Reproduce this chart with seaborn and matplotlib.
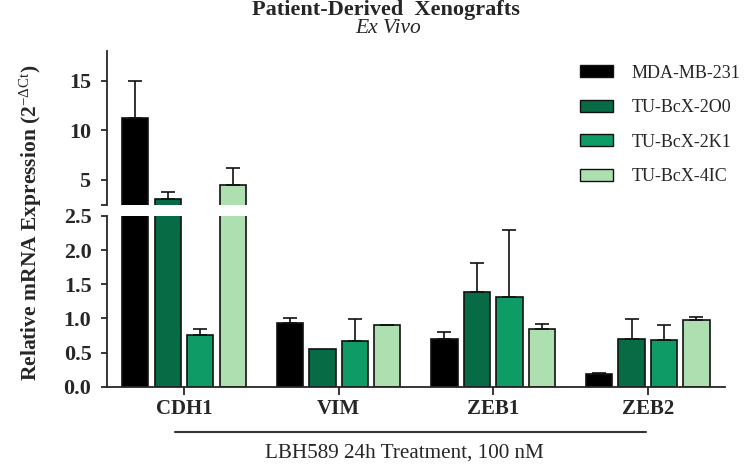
import numpy as np
import pandas as pd
import matplotlib
matplotlib.use("Agg")
import matplotlib.pyplot as plt
import matplotlib.patches as mpatches
import seaborn as sns

genes = ["CDH1", "VIM", "ZEB1", "ZEB2"]
lines = ["MDA-MB-231", "TU-BcX-2O0", "TU-BcX-2K1", "TU-BcX-4IC"]
colors = ["#000000", "#076b45", "#0e9b66", "#addfb0"]

mda_mean = [11.2, 0.94, 0.70, 0.18]
mda_err = [3.8, 0.07, 0.10, 0.015]
t2o0_mean = [3.09, 0.556, 1.386, 0.70]
t2o0_err = [0.66, 0.0, 0.42, 0.29]
t2k1_mean = [0.757, 0.67, 1.32, 0.68]
t2k1_err = [0.093, 0.32, 0.97, 0.22]
t4ic_mean = [4.46, 0.90, 0.85, 0.98]
t4ic_err = [1.71, 0.01, 0.068, 0.045]

means = [mda_mean, t2o0_mean, t2k1_mean, t4ic_mean]
errs = [mda_err, t2o0_err, t2k1_err, t4ic_err]

rows = []
for li, ln in enumerate(lines):
    for gi, g in enumerate(genes):
        rows.append({"gene": g, "line": ln, "value": means[li][gi], "err": errs[li][gi]})
df = pd.DataFrame(rows)

sns.set_style("ticks")
plt.rcParams["font.family"] = ["Liberation Serif", "DejaVu Serif"]
plt.rcParams["mathtext.fontset"] = "custom"
plt.rcParams["mathtext.rm"] = "Liberation Serif"
plt.rcParams["mathtext.bf"] = "Liberation Serif:bold"
plt.rcParams["mathtext.it"] = "Liberation Serif:italic"

fig = plt.figure(figsize=(7.5, 4.66), dpi=100)
L, R = 0.1423, 0.9667
ax_lo = fig.add_axes([L, 0.1702, R - L, 0.5365 - 0.1702])
ax_hi = fig.add_axes([L, 0.5607, R - L, 0.8912 - 0.5607])

palette = dict(zip(lines, colors))
for ax in (ax_lo, ax_hi):
    sns.barplot(data=df, x="gene", y="value", hue="line", hue_order=lines,
                order=genes, palette=palette, width=0.84, gap=0.19,
                errorbar=None, edgecolor="#111111", linewidth=1.2,
                legend=False, ax=ax, saturation=1)
    # error bars from bar patches (sorted left to right)
    pats = sorted(ax.patches, key=lambda p: p.get_x())
    k = 0
    for gi, g in enumerate(genes):
        for li, ln in enumerate(lines):
            p = pats[k]
            k += 1
            xc = p.get_x() + p.get_width() / 2
            e = errs[li][gi]
            if e > 0:
                ax.errorbar([xc], [means[li][gi]], yerr=[[0], [e]], fmt="none",
                            ecolor="#111111", elinewidth=1.2, capsize=4.7,
                            capthick=1.2, zorder=1)
    ax.set_xlim(-0.5, 3.5)
    ax.set_xlabel("")
    ax.set_ylabel("")
    for s in ("top", "right"):
        ax.spines[s].set_visible(False)
    ax.spines["left"].set_linewidth(1.3)
    ax.spines["bottom"].set_linewidth(1.3)
    ax.tick_params(axis="y", length=4, width=1.3, labelsize=15.8, pad=7)

ax_lo.set_ylim(0, 2.5)
ax_lo.set_yticks([0, 0.5, 1.0, 1.5, 2.0, 2.5])
ax_lo.set_yticklabels(["0.0", "0.5", "1.0", "1.5", "2.0", "2.5"], fontweight="bold")
ax_lo.tick_params(axis="x", length=6, width=1.3, labelsize=15, pad=3)
for t in ax_lo.get_xticklabels():
    t.set_fontweight("bold")

ax_hi.set_ylim(2.5, 18)
ax_hi.set_yticks([2.5, 5, 10, 15])
ax_hi.set_yticklabels(["", "5", "10", "15"], fontweight="bold")
ax_hi.spines["bottom"].set_visible(False)
ax_hi.tick_params(axis="x", bottom=False, labelbottom=False)

fig.text(0.041, 0.522, r"Relative mRNA Expression (2$^{-\Delta\mathrm{Ct}}$)",
         rotation=90, ha="center", va="center", fontsize=15.5, fontweight="bold")

fig.text(0.5143, 1 - 15 / 466, "Patient-Derived  Xenografts", ha="center",
         va="baseline", fontsize=16, fontweight="bold")
fig.text(0.5173, 1 - 33.3 / 466, "Ex Vivo", ha="center", va="baseline",
         fontsize=15.5, fontstyle="italic")

fig.add_artist(plt.Line2D([175 / 750, 646 / 750], [1 - 432.3 / 466] * 2,
                          color="#333333", linewidth=1.5))
fig.text(404.5 / 750, 1 - 457.3 / 466, "LBH589 24h Treatment, 100 nM",
         ha="center", va="baseline", fontsize=15.2)

handles = [mpatches.Patch(facecolor=c, edgecolor="#111111", linewidth=1.0, label=l)
           for c, l in zip(colors, lines)]
fig.legend(handles=handles, loc="upper left", bbox_to_anchor=(0.764, 0.877),
           frameon=False, fontsize=13, handlelength=1.83, handleheight=0.67,
           handletextpad=1.0, labelspacing=0.97, borderaxespad=0)

fig.savefig("out.png", dpi=100)
